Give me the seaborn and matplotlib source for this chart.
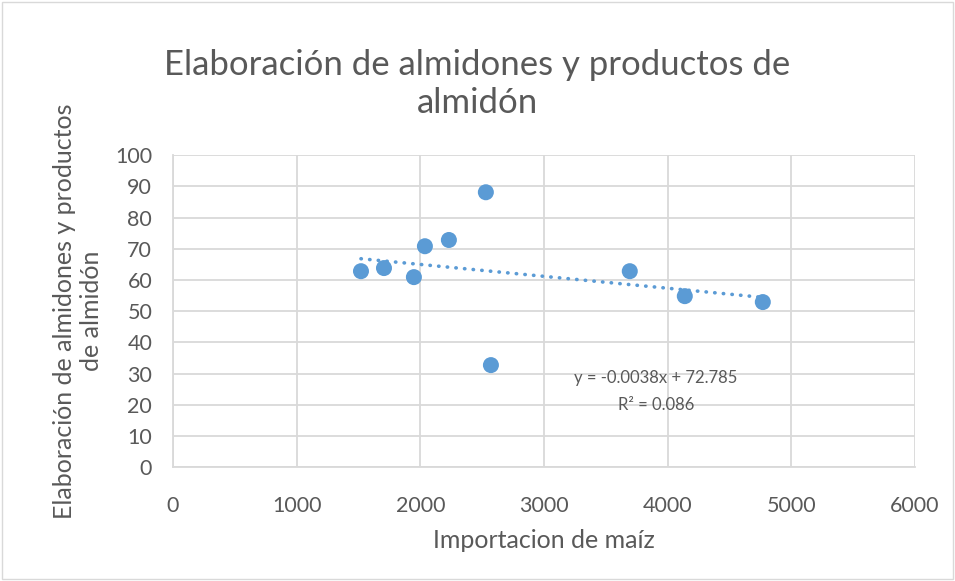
import matplotlib
matplotlib.use("Agg")
import matplotlib.pyplot as plt
import seaborn as sns
import numpy as np
import pandas as pd
from matplotlib.patches import Rectangle

importacion = [1520, 1706, 1948, 2037, 2231, 2530, 2571, 3694, 4139, 4770]
elaboracion = [62.8, 63.8, 60.9, 70.8, 72.8, 88.1, 32.7, 62.8, 54.8, 52.9]
x_ticks = [0, 1000, 2000, 3000, 4000, 5000, 6000]
y_ticks = [0, 10, 20, 30, 40, 50, 60, 70, 80, 90, 100]

df = pd.DataFrame({"x": importacion, "y": elaboracion})

sns.set_theme(style="white")
plt.rcParams["font.family"] = ["Lato", "DejaVu Sans"]
txt = "#595959"
blue = "#5b9bd5"
grid = "#d9d9d9"

fig = plt.figure(figsize=(9.55, 5.81), dpi=100)
ax = fig.add_axes([0.1812, 0.196, 0.958 - 0.1812, 0.733 - 0.196])

sns.regplot(data=df, x="x", y="y", ax=ax, ci=None, truncate=True,
            scatter_kws=dict(s=133, color=blue, edgecolor="none", alpha=1, zorder=3),
            line_kws=dict(color=blue, linestyle=(0, (0.1, 2.3)), linewidth=2.6,
                          dash_capstyle="round", zorder=2))

ax.set_xlim(0, 6000)
ax.set_ylim(0, 100)
ax.set_xticks(x_ticks)
ax.set_yticks(y_ticks)
ax.grid(True, color=grid, linewidth=1.3)
ax.set_axisbelow(True)
for s in ["top", "right"]:
    ax.spines[s].set_visible(False)
for s in ["left", "bottom"]:
    ax.spines[s].set_color(grid)
    ax.spines[s].set_linewidth(1.3)
ax.tick_params(axis="both", colors=txt, labelsize=15.5, length=0)
ax.tick_params(axis="y", pad=15)
ax.tick_params(axis="x", pad=21)

ax.set_xlabel("Importacion de maíz", color=txt, fontsize=18, labelpad=9)
ax.set_ylabel("Elaboración de almidones y productos\nde almidón", color=txt,
              fontsize=18, labelpad=9, linespacing=1.2)

fig.text(0.5, 0.856, "Elaboración de almidones y productos de\nalmidón",
         ha="center", va="center", color=txt, fontsize=25, linespacing=1.24)

ax.text(3905, 24.2, "y = -0.0038x + 72.785\nR² = 0.086", ha="center", va="center",
        color=txt, fontsize=12, linespacing=1.8)

fig.patches.append(Rectangle((0.002, 0.003), 0.996, 0.994, transform=fig.transFigure,
                             fill=False, edgecolor=grid, linewidth=1))

fig.savefig("out.png", dpi=100)
